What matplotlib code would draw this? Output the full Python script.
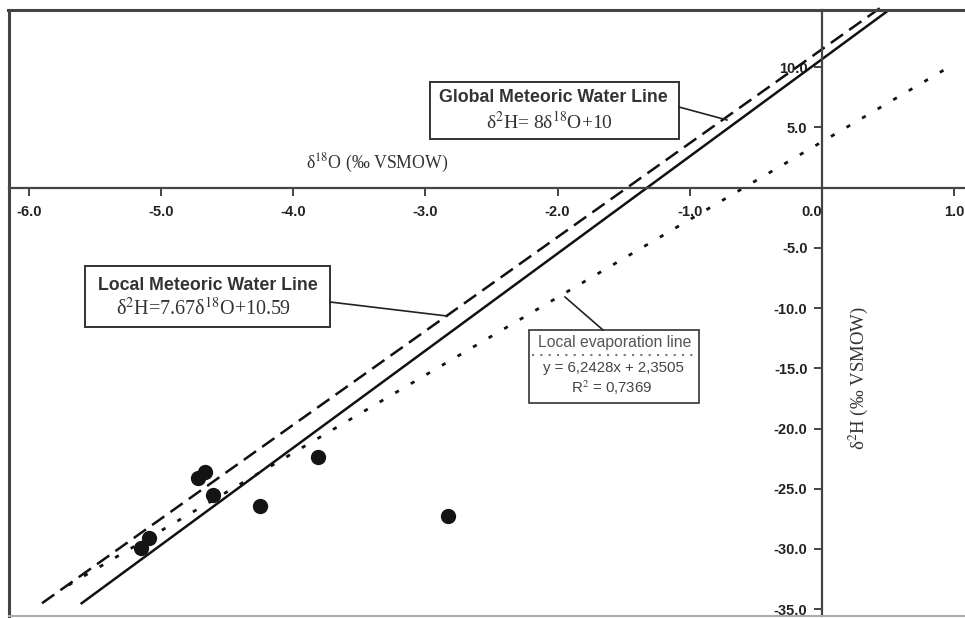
import matplotlib.pyplot as plt
from matplotlib.lines import Line2D
from matplotlib.patches import Rectangle

plt.rcParams['mathtext.fontset'] = 'stix'

# samples (d18O, d2H)
d18o = [-5.15, -5.09, -4.72, -4.67, -4.61, -4.25, -3.81, -2.83]
d2h = [-29.9, -29.1, -24.1, -23.6, -25.5, -26.4, -22.4, -27.3]

# line end points
gmwl_x = [-5.90, 0.44]
gmwl_y = [-34.5, 14.9]
lmwl_x = [-5.60, 0.49]
lmwl_y = [-34.5, 14.6]
lel_x = [-5.70, 0.93]
lel_y = [-33.0, 9.8]

xticks = [-6.0, -5.0, -4.0, -3.0, -2.0, -1.0, 0.0, 1.0]
yticks = [10.0, 5.0, -5.0, -10.0, -15.0, -20.0, -25.0, -30.0, -35.0]

W, H = 965, 618


def fp(x, y):
    # pixel (from top-left) -> figure fraction
    return x / W, 1 - y / H


def fline(fig, p0, p1, **kw):
    a, b = fp(*p0), fp(*p1)
    fig.lines.append(Line2D([a[0], b[0]], [a[1], b[1]], transform=fig.transFigure, **kw))


def main():
    fig = plt.figure(figsize=(W / 100, H / 100), dpi=100)
    ax = fig.add_axes([0, 0, 1, 1])
    ax.set_xlim(-822 / 132.2, (W - 822) / 132.2)
    ax.set_ylim(-(H - 187.5) / 12.05, 187.5 / 12.05)

    for s in ['top', 'right']:
        ax.spines[s].set_visible(False)
    ax.spines['left'].set_position(('data', 0))
    ax.spines['bottom'].set_position(('data', 0))
    for s in ['left', 'bottom']:
        ax.spines[s].set_color('#444444')
        ax.spines[s].set_linewidth(1.6)
    ax.spines['left'].set_bounds(-(616 - 187.5) / 12.05, (187.5 - 10) / 12.05)
    ax.spines['bottom'].set_bounds((9 - 822) / 132.2, (W - 822) / 132.2)

    ax.set_xticks(xticks)
    ax.set_xticklabels(['%.1f' % v for v in xticks], fontweight='bold',
                       fontsize=10.5, fontfamily='Liberation Sans', color='#222222')
    ax.set_yticks(yticks)
    ax.set_yticklabels(['%.1f' % v for v in yticks], fontweight='bold',
                       fontsize=10.5, fontfamily='Liberation Sans', color='#222222')
    ax.tick_params(axis='both', length=5.5, width=1.4, color='#444444')
    ax.tick_params(axis='x', pad=7)
    ax.tick_params(axis='y', pad=5)
    for lab in ax.get_xticklabels():
        if lab.get_text() == '0.0':
            lab.set_horizontalalignment('right')

    ax.plot(gmwl_x, gmwl_y, color='#111111', lw=1.8, dashes=(6, 3))
    ax.plot(lmwl_x, lmwl_y, color='#111111', lw=1.8)
    ax.plot(lel_x, lel_y, color='#111111', lw=2.0, dashes=(1.5, 5))
    ax.plot(d18o, d2h, 'o', color='#141414', ms=10, zorder=5)

    # axis titles
    fig.text(*fp(377, 163), 'δ$^{18}$O (‰ VSMOW)', ha='center', va='center',
             fontsize=12.8, fontfamily='Liberation Serif', color='#333333')
    fig.text(*fp(858, 378), 'δ$^{2}$H (‰ VSMOW)', ha='center', va='center',
             rotation=90, fontsize=13.5, fontfamily='Liberation Serif', color='#333333')

    # GMWL label box
    fig.patches.append(Rectangle(fp(430, 139), 249 / W, 57 / H, transform=fig.transFigure,
                                 fill=False, ec='#333333', lw=1.4))
    fig.text(*fp(553, 97), 'Global Meteoric Water Line', ha='center', va='center',
             fontsize=12.8, fontweight='bold', fontfamily='Liberation Sans', color='#333333')
    fig.text(*fp(549, 122), 'δ$^{2}$H= 8δ$^{18}$O+10', ha='center', va='center',
             fontsize=14, fontfamily='Liberation Serif', color='#333333')
    fline(fig, (679, 107), (727, 120), color='#222222', lw=1.2)

    # LMWL label box
    fig.patches.append(Rectangle(fp(85, 327), 245 / W, 61 / H, transform=fig.transFigure,
                                 fill=False, ec='#333333', lw=1.4))
    fig.text(*fp(208, 285), 'Local Meteoric Water Line', ha='center', va='center',
             fontsize=12.8, fontweight='bold', fontfamily='Liberation Sans', color='#333333')
    fig.text(*fp(203, 309), 'δ$^{2}$H=7.67δ$^{18}$O+10.59', ha='center',
             va='center', fontsize=14.5, fontfamily='Liberation Serif', color='#333333')
    fline(fig, (330, 302), (447, 316), color='#222222', lw=1.2)

    # local evaporation line box
    fig.patches.append(Rectangle(fp(529, 403), 170 / W, 73 / H, transform=fig.transFigure,
                                 fill=False, ec='#333333', lw=1.2))
    fig.text(*fp(615, 342), 'Local evaporation line', ha='center', va='center',
             fontsize=11.3, fontfamily='Liberation Sans', color='#555555')
    fline(fig, (532, 355), (696, 355), color='#777777', lw=1.5, dashes=(1, 3))
    fig.text(*fp(613, 368), 'y = 6,2428x + 2,3505', ha='center', va='center',
             fontsize=10.8, fontfamily='Liberation Sans', color='#444444')
    fig.text(*fp(612, 388), 'R$^2$ = 0,7369', ha='center', va='center',
             fontsize=10.8, fontfamily='Liberation Sans', color='#444444')
    fline(fig, (603, 330), (565, 297), color='#222222', lw=1.2)

    # outer frame
    fline(fig, (9, 616), (9, 10), color='#444444', lw=2.2)
    fline(fig, (8, 10), (W, 10), color='#444444', lw=2.2)
    fline(fig, (9, 616), (W, 616), color='#aaaaaa', lw=1.5)

    fig.savefig('out.png', dpi=100)


if __name__ == '__main__':
    main()
